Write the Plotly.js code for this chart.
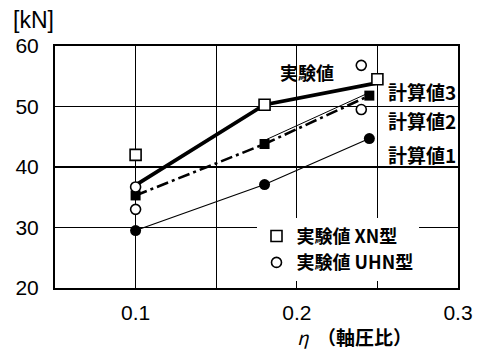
<!DOCTYPE html>
<html><head><meta charset="utf-8">
<script src="https://cdn.plot.ly/plotly-3.0.1.min.js"></script>
<style>html,body{margin:0;padding:0;background:#fff;}#chart{width:478px;height:353px;}</style>
</head><body><div id="chart"></div>
<script>
// axial load ratio η
const xnX = [0.1, 0.18, 0.25];          // 実験値 XN型 (open squares)
const xnY = [42.0, 50.3, 54.5];
const uhnX = [0.1, 0.1, 0.24, 0.24];    // 実験値 UHN型 (open circles)
const uhnY = [36.7, 33.0, 56.8, 49.5];
const expLineX = [0.1, 0.18, 0.25];     // 実験値 (thick line)
const expLineY = [37.0, 50.3, 53.9];
const calc3X = [0.18, 0.245];           // 計算値3 (thin line)
const calc3Y = [44.4, 52.3];
const calc2X = [0.1, 0.18, 0.245];      // 計算値2 (dash-dot, filled squares)
const calc2Y = [35.3, 43.8, 51.8];
const calc1X = [0.1, 0.18, 0.245];      // 計算値1 (thin, filled circles)
const calc1Y = [29.5, 37.1, 44.7];
const xTicks = [0.1, 0.2, 0.3];
const xTickText = ['0.1', '0.2', '0.3'];
const yTicks = [20, 30, 40, 50, 60];

const JP = '"Noto Sans CJK JP", "Noto Sans", sans-serif';
const NUM = '"Liberation Sans", Arial, sans-serif';

const traces = [
  {x: calc1X, y: calc1Y, mode: 'lines+markers', showlegend: false,
   line: {color: '#000', width: 1.2}, marker: {symbol: 'circle', size: 11, color: '#000'}},
  {x: calc3X, y: calc3Y, mode: 'lines', showlegend: false,
   line: {color: '#000', width: 1}},
  {x: calc2X, y: calc2Y, mode: 'lines+markers', showlegend: false,
   line: {color: '#000', width: 2.6, dash: '12px,4px,3px,4px'}, marker: {symbol: 'square', size: 10, color: '#000'}},
  {x: expLineX, y: expLineY, mode: 'lines', showlegend: false,
   line: {color: '#000', width: 3.8}},
  {x: xnX, y: xnY, mode: 'markers', name: '<b>実験値 XN型</b>', legendgroup: 'a',
   marker: {symbol: 'square', size: 11, color: '#fff', line: {color: '#000', width: 1.6}}},
  {x: uhnX, y: uhnY, mode: 'markers', name: '<b>実験値 UHN型</b>', legendgroup: 'b',
   marker: {symbol: 'circle', size: 10, color: '#fff', line: {color: '#000', width: 1.6}}}
];

const layout = {
  width: 478, height: 353,
  margin: {l: 55, r: 20, t: 46, b: 65},
  paper_bgcolor: '#fff', plot_bgcolor: '#fff',
  font: {family: JP, color: '#000'},
  xaxis: {range: [0.05, 0.3], tickvals: xTicks, ticktext: xTickText, ticks: '',
    showgrid: true, gridcolor: '#000', gridwidth: 1.2, zeroline: false,
    minor: {dtick: 0.05, tick0: 0.05, showgrid: true, gridcolor: '#000', gridwidth: 1.2},
    showline: true, linecolor: '#000', linewidth: 2, mirror: true,
    tickfont: {family: NUM, size: 21, color: '#000'}, ticklabelstandoff: 5},
  yaxis: {range: [20, 60], tickvals: yTicks, ticks: '',
    showgrid: true, gridcolor: '#000', gridwidth: 1.2, zeroline: false,
    showline: true, linecolor: '#000', linewidth: 2, mirror: true,
    tickfont: {family: NUM, size: 21, color: '#000'}, ticklabelstandoff: 10},
  showlegend: true,
  legend: {x: 0.50, y: 0.29, xanchor: 'left', yanchor: 'top', bgcolor: '#fff',
    borderwidth: 0, font: {family: JP, size: 18, color: '#000'}, tracegroupgap: 0,
    traceorder: 'normal'},
  annotations: [
    {xref: 'paper', yref: 'paper', x: -0.11, y: (288 - 20) / 242, xanchor: 'left', yanchor: 'middle',
     text: '[kN]', showarrow: false, font: {family: NUM, size: 23, color: '#000'}},
    {xref: 'x', yref: 'y', x: 0.2065, y: 55.7, yanchor: 'middle', text: '<b>実験値</b>', showarrow: false,
     font: {family: JP, size: 18, color: '#000'}},
    {xref: 'paper', yref: 'paper', x: 0.999, y: (288 - 91) / 242, xanchor: 'right', yanchor: 'middle', text: '<b>計算値3</b>', showarrow: false,
     font: {family: JP, size: 19, color: '#000'}},
    {xref: 'paper', yref: 'paper', x: 0.999, y: (288 - 121) / 242, xanchor: 'right', yanchor: 'middle', text: '<b>計算値2</b>', showarrow: false,
     font: {family: JP, size: 19, color: '#000'}},
    {xref: 'paper', yref: 'paper', x: 0.999, y: (288 - 154) / 242, xanchor: 'right', yanchor: 'middle', text: '<b>計算値1</b>', showarrow: false,
     font: {family: JP, size: 19, color: '#000'}},
    {xref: 'paper', yref: 'paper', x: (295 - 55) / 403, y: (288 - 336) / 242, xanchor: 'left', yanchor: 'middle',
     text: '<i>η</i>  <b>（軸圧比）</b>', showarrow: false, font: {family: JP, size: 19, color: '#000'}}
  ]
};

Plotly.newPlot('chart', traces, layout, {displayModeBar: false, staticPlot: true});
</script></body></html>
